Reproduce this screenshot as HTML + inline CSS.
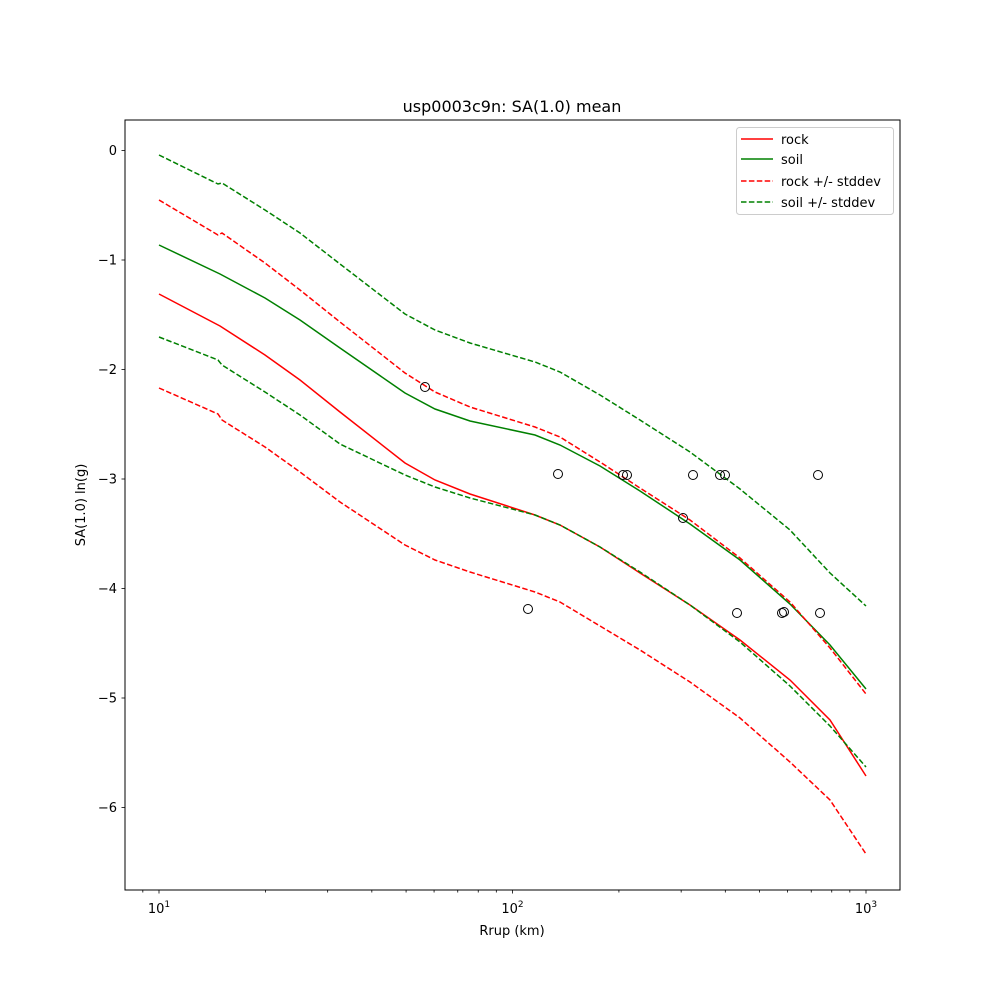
<!DOCTYPE html>
<html><head><meta charset="utf-8"><style>
body{margin:0;background:#fff;}
svg{display:block;font-family:"DejaVu Sans","Liberation Sans",sans-serif;}
</style></head><body>
<svg id="s" width="1000" height="1000" viewBox="0 0 1000 1000" xmlns="http://www.w3.org/2000/svg">
<rect width="1000" height="1000" fill="#fff"/>
<g fill="none" stroke-width="1.5">
<polyline stroke="#ff0000" points="159,294 220,326 265,355 300,380 340,412 405,463 435,480 470,494 535,515 560,525 600,547 640,573 690,605 740,640 790,680 830,720 866,776"/>
<polyline stroke="#008000" points="159,245 220,274 265,298 300,320 340,348 405,393 435,409 470,421 535,435 560,445 600,466 640,491 690,524 740,560 790,604 830,645 866,689"/>
<g stroke-dasharray="5.5,2.4">
<polyline stroke="#ff0000" points="159,200 218,235 222,233 265,263 300,290 340,322 405,373 435,392 470,407 535,427 560,437 600,462 640,488 690,520 740,558 790,602 830,648 866,694"/>
<polyline stroke="#ff0000" points="159,388 218,414 222,420 265,447 300,472 340,502 405,545 435,560 470,572 535,592 560,602 600,626 640,650 690,682 740,718 790,762 830,800 866,854"/>
<polyline stroke="#008000" points="159,155 218,184 222,183 265,210 300,233 340,264 405,314 435,330 470,343 535,362 560,372 600,395 640,420 690,452 740,489 790,530 830,573 866,606"/>
<polyline stroke="#008000" points="159,337 218,360 222,365 265,392 300,415 340,444 405,475 435,487 470,498 535,515 560,525 600,547 640,572 690,605 740,642 790,686 830,726 866,767"/>
</g>
</g>
<g fill="none" stroke="#000" stroke-width="1" id="pts">
<circle cx="425" cy="387" r="4.5"/><circle cx="558" cy="474" r="4.5"/><circle cx="623" cy="475" r="4.5"/><circle cx="627" cy="475" r="4.5"/><circle cx="693" cy="475" r="4.5"/><circle cx="720" cy="475" r="4.5"/><circle cx="725" cy="475" r="4.5"/><circle cx="818" cy="475" r="4.5"/><circle cx="683" cy="518" r="4.5"/><circle cx="528" cy="609" r="4.5"/><circle cx="737" cy="613" r="4.5"/><circle cx="782" cy="613" r="4.5"/><circle cx="784" cy="612" r="4.5"/><circle cx="820" cy="613" r="4.5"/>
</g>
<rect x="125" y="120" width="775" height="770" fill="none" stroke="#000" stroke-width="1"/>
<g id="ticks" stroke="#000" stroke-width="0.8"></g>
<g font-size="13" fill="#000" id="lbl"></g>
<text x="512" y="112" font-size="16" text-anchor="middle">usp0003c9n: SA(1.0) mean</text>
<text x="512" y="935" font-size="13" text-anchor="middle">Rrup (km)</text>
<text x="85" y="505" font-size="13" text-anchor="middle" transform="rotate(-90 85 505)">SA(1.0) ln(g)</text>
<g>
<rect x="736.5" y="127.5" width="157" height="87" rx="3" fill="#fff" stroke="#ccc"/>
<line x1="741" y1="139" x2="773" y2="139" stroke="#f00" stroke-width="1.5"/>
<line x1="741" y1="159" x2="773" y2="159" stroke="#008000" stroke-width="1.5"/>
<line x1="741" y1="181" x2="773" y2="181" stroke="#f00" stroke-width="1.5" stroke-dasharray="5.5,2.4"/>
<line x1="741" y1="202" x2="773" y2="202" stroke="#008000" stroke-width="1.5" stroke-dasharray="5.5,2.4"/>
<g font-size="13"><text x="781" y="144">rock</text><text x="781" y="164">soil</text><text x="781" y="186">rock +/- stddev</text><text x="781" y="207">soil +/- stddev</text></g>
</g>
</svg>
<script>
var ns="http://www.w3.org/2000/svg",t=document.getElementById('ticks'),l=document.getElementById('lbl');
function ln(x1,y1,x2,y2){var e=document.createElementNS(ns,'line');e.setAttribute('x1',x1);e.setAttribute('y1',y1);e.setAttribute('x2',x2);e.setAttribute('y2',y2);t.appendChild(e);}
function tx(x,y,s,a){var e=document.createElementNS(ns,'text');e.setAttribute('x',x);e.setAttribute('y',y);e.setAttribute('text-anchor',a);e.innerHTML=s;l.appendChild(e);}
function X(r){return 159+353.5*Math.log10(r/10);}
for(var d=1;d<=100;d*=10)for(var k=1;k<10;k++){var r=k*d*10*(d==1&&k<2?1:1);}
var mins=[9,20,30,40,50,60,70,80,90,200,300,400,500,600,700,800,900];
mins.forEach(function(r){var x=X(r);ln(x,890,x,892.5);});
[[10,'1'],[100,'2'],[1000,'3']].forEach(function(p){var x=X(p[0]);ln(x,890,x,893.5);tx(x,913,'10<tspan font-size="9" dy="-6">'+p[1]+'</tspan>','middle');});
for(var v=0;v>=-6;v--){var y=150.5-109.5*v;ln(125,y,121.5,y);tx(117,y+4.5,v==0?'0':'\u2212'+(-v),'end');}
</script>
</body></html>
